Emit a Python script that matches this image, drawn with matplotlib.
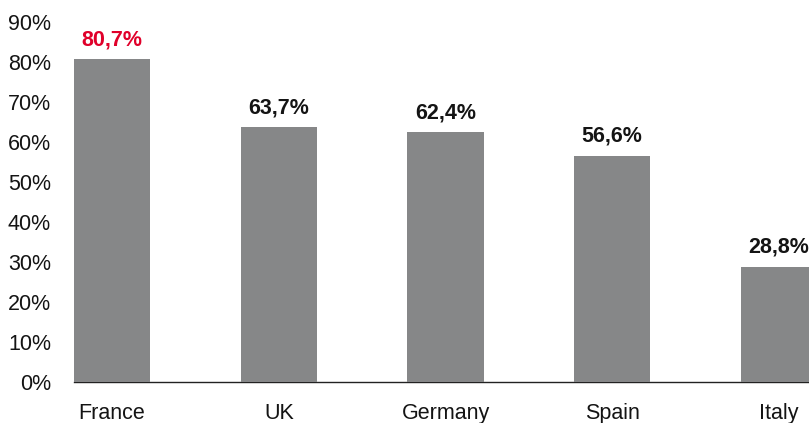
import matplotlib.pyplot as plt

plt.rcParams["font.family"] = ["Liberation Sans", "DejaVu Sans"]

countries = ["France", "UK", "Germany", "Spain", "Italy"]
shares = [80.7, 63.7, 62.4, 56.6, 28.8]
yticks = [0, 10, 20, 30, 40, 50, 60, 70, 80, 90]

bar_color = "#868788"
text_color = "#141414"
highlight = "#e0002a"

fig = plt.figure(figsize=(8.09, 4.23), dpi=100)
ax = fig.add_axes([74 / 809, 1 - 382 / 423, 1 - 74 / 809, 360 / 423])

x = list(range(len(countries)))
ax.bar(x, shares, width=0.456, color=bar_color, zorder=3)

for i, v in enumerate(shares):
    label = f"{v:.1f}".replace(".", ",") + "%"
    ax.annotate(label, (i, v), xytext=(0, 6.5), textcoords="offset points",
                ha="center", va="bottom", fontsize=15.5, fontweight="bold",
                color=highlight if i == 0 else text_color, annotation_clip=False)

ax.set_xlim(-0.228, 4.18)
ax.set_ylim(0, 90)
ax.set_xticks(x)
ax.set_xticklabels(countries)
ax.set_yticks(yticks)
ax.set_yticklabels([f"{t}%" for t in yticks])
ax.tick_params(axis="both", length=0, labelsize=15.5, colors=text_color)
ax.tick_params(axis="y", pad=16.5)
ax.tick_params(axis="x", pad=15)

for side in ["top", "right", "left"]:
    ax.spines[side].set_visible(False)
ax.spines["bottom"].set_color("#222222")
ax.spines["bottom"].set_linewidth(1.0)
ax.spines["bottom"].set_zorder(1)

fig.savefig("out.png", dpi=100)
